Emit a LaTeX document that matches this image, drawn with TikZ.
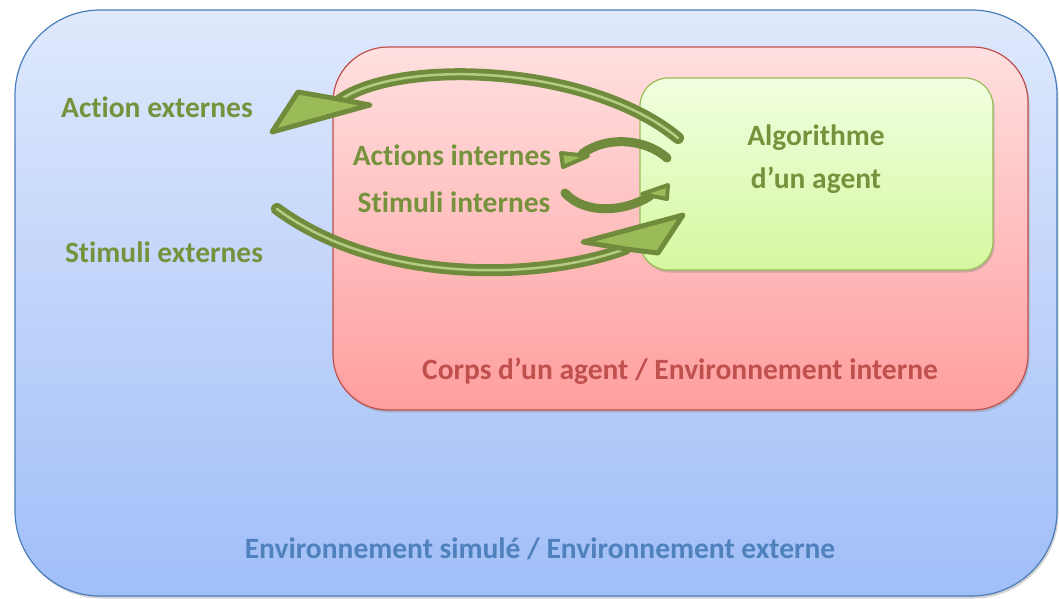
\documentclass[tikz,border=0pt]{standalone}
\usepackage{fontspec}
\setmainfont[Ligatures=NoCommon]{Carlito}
\usetikzlibrary{shadows}
\definecolor{envborder}{HTML}{4A7EBB}
\definecolor{envtop}{HTML}{DFE9FC}
\definecolor{envbot}{HTML}{A0BEF8}
\definecolor{redborder}{HTML}{C0504D}
\definecolor{redtop}{HTML}{FFE0E0}
\definecolor{redbot}{HTML}{FF9E9E}
\definecolor{grnborder}{HTML}{9BBB59}
\definecolor{grntop}{HTML}{F1FFE0}
\definecolor{grnbot}{HTML}{D6F8A0}
\definecolor{txtgreen}{HTML}{76923C}
\definecolor{txtblue}{HTML}{4F81BD}
\definecolor{txtred}{HTML}{C0504D}
\definecolor{arrdark}{HTML}{718B3C}
\definecolor{arrfill}{HTML}{9BBB59}
\tikzset{
  boxbase/.style={rectangle, inner sep=0pt, outer sep=0pt, line width=1.2pt,
    drop shadow={shadow xshift=1.5pt, shadow yshift=-2.5pt, opacity=0.35, fill=gray}},
  envbox/.style={boxbase, draw=envborder, top color=envtop, bottom color=envbot,
    rounded corners=85pt, minimum width=1042pt, minimum height=586pt},
  bodybox/.style={boxbase, draw=redborder, top color=redtop, bottom color=redbot,
    rounded corners=55pt, minimum width=695pt, minimum height=363pt},
  algobox/.style={boxbase, draw=grnborder, top color=grntop, bottom color=grnbot,
    rounded corners=28pt, minimum width=353pt, minimum height=192pt},
  lbl/.style={font=\fontsize{29.5}{43}\selectfont\bfseries, inner sep=0pt, align=center},
  greenlbl/.style={lbl, text=txtgreen},
  shaftout/.style={draw=arrdark, line width=12pt, line cap=round},
  shaftin/.style={draw=arrfill!75!white, line width=2.5pt, line cap=round},
  smallshaft/.style={draw=arrdark, line width=9pt, line cap=round},
  headshape/.style={draw=arrdark, fill=arrfill, line width=5pt, line join=round},
}
\begin{document}
\begin{tikzpicture}[x=1pt,y=-1pt]
\useasboundingbox (0,0) rectangle (1059,598);
% boxes
\node[envbox] (env) at (536,303) {};
\node[bodybox] (body) at (680.5,228.5) {};
\node[algobox] (algo) at (816.5,174) {};
% labels
\node[lbl, text=txtblue] (envlbl) at (540,549) {Environnement simulé / Environnement externe};
\node[lbl, text=txtred] (bodylbl) at (680,371) {Corps d’un agent / Environnement interne};
\node[greenlbl] (algolbl) at (816,159) {Algorithme\\d’un agent};
\node[greenlbl] (actext) at (157,107) {Action externes};
\node[greenlbl] (stiext) at (164,252) {Stimuli externes};
\node[greenlbl] (actint) at (452,155) {Actions internes};
\node[greenlbl] (stiint) at (454,202) {Stimuli internes};
% connector end points
\coordinate (a1s) at (678,138);
\coordinate (a1e) at (340,100);
\coordinate (a2s) at (277,209);
\coordinate (a2e) at (625,249);
\coordinate (a3s) at (667,158);
\coordinate (a3e) at (582,154);
\coordinate (a4s) at (565,193);
\coordinate (a4e) at (650,196);
% arrow 1 : action externe
\draw[shaftout] (a1s) .. controls (590,65) and (400,58) .. (a1e);
\draw[shaftin] (a1s) .. controls (590,65) and (400,58) .. (a1e);
\draw[headshape] (272,132) -- (370,105) -- (338,99) -- (298,92) -- cycle;
% arrow 2 : stimuli externes
\draw[shaftout] (a2s) .. controls (380,285) and (540,280) .. (a2e);
\draw[shaftin] (a2s) .. controls (380,285) and (540,280) .. (a2e);
\draw[headshape] (683,215) -- (583,242) -- (626,249) -- (658,253) -- cycle;
% arrow 3 : actions internes
\draw[smallshaft] (a3s) .. controls (645,138) and (605,136) .. (a3e);
\draw[headshape, line width=4pt] (561,153) -- (588,156) -- (563,167) -- cycle;
% arrow 4 : stimuli internes
\draw[smallshaft] (a4s) .. controls (585,215) and (625,212) .. (a4e);
\draw[headshape, line width=4pt] (668,185) -- (642,194) -- (667,199) -- cycle;
\end{tikzpicture}
\end{document}
